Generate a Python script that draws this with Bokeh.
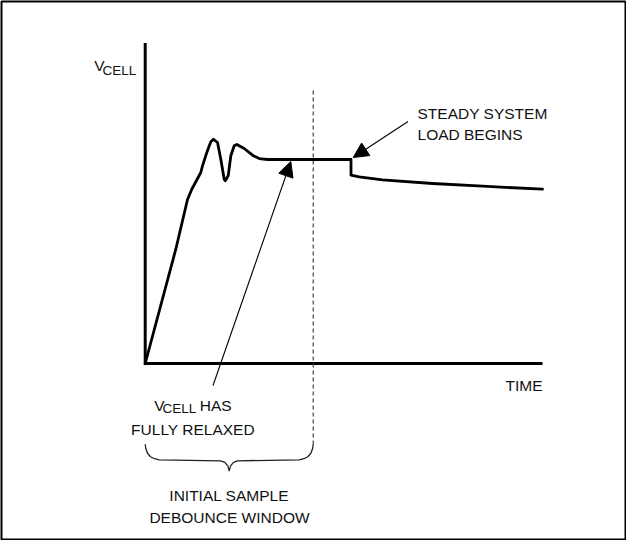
from bokeh.plotting import figure
from bokeh.models import Range1d, Arrow, NormalHead, ColumnDataSource
from bokeh.core.properties import value
from bokeh.embed import file_html
from bokeh.resources import INLINE

# ---- data (time units 0..100 along the time axis, V units 0..100 along V axis) ----
curve_t = [0, 7.70, 10.65, 11.73, 13.99, 14.42, 15.50, 16.51, 17.19, 18.20, 19.03,
           19.88, 20.14, 20.89, 21.55, 22.40, 23.06, 24.92, 27.01, 28.69, 30.78,
           42.07, 51.80, 51.80, 53.86, 59.73, 72.31, 84.90, 100.0]
curve_v = [0, 35.66, 51.17, 54.38, 59.59, 61.68, 65.83, 69.17, 69.98, 68.95, 63.74,
           57.50, 57.00, 58.56, 64.81, 67.93, 68.33, 67.08, 64.99, 63.96, 63.65,
           63.65, 63.65, 58.81, 58.25, 57.32, 56.16, 55.32, 54.38]

axis_t = [0, 0, 100]
axis_v = [100, 0, 0]

window_t = [42.29, 42.29]
window_v = [85.18, -25.27]

brace_t = [0, 0.13, 0.58, 1.33, 2.34, 3.52, 19.03, 20.04, 20.79, 21.14,
           21.49, 22.24, 23.23, 38.76, 39.94, 40.95, 41.70, 42.16, 42.29]
brace_v = [-25.18, -26.43, -27.99, -29.08, -29.71, -30.05, -30.36, -30.83, -31.92, -33.48,
           -31.92, -30.83, -30.36, -30.05, -29.71, -29.08, -27.99, -26.43, -25.18]

# annotation anchors
label_text = ["V", "CELL", "STEADY SYSTEM", "LOAD BEGINS", "TIME",
              "V", "CELL", "HAS", "FULLY RELAXED", "INITIAL SAMPLE", "DEBOUNCE WINDOW"]
label_t = [-12.84, -10.75, 68.54, 68.54, 100.0, 2.27, 4.35, 13.74, 12.03, 21.14, 21.22]
label_v = [92.89, 91.33, 78.10, 71.36, -6.77, -13.20, -14.04, -13.20, -20.50, -41.28, -48.05]
label_size = ["15.5px", "13.5px", "15.5px", "15.5px", "15.5px", "15.5px", "13.5px", "15.5px",
              "15.5px", "15.5px", "15.5px"]
label_align = ["left", "left", "left", "left", "right", "left", "left", "left", "center", "center", "center"]

arrow_t0 = [17.07, 66.15]
arrow_v0 = [-6.86, 75.51]
arrow_t1 = [36.65, 52.35]
arrow_v1 = [63.03, 64.27]

p = figure(width=626, height=540, output_backend="svg", toolbar_location=None,
           x_range=Range1d(-36.17, 120.89), y_range=Range1d(-54.91, 112.95),
           x_axis_location=None, y_axis_location=None,
           min_border=1, min_border_left=1, min_border_right=1,
           min_border_top=1, min_border_bottom=1)
p.grid.visible = False
p.outline_line_color = "black"
p.outline_line_width = 2
p.background_fill_color = "white"
p.border_fill_color = "white"

# axes
p.line(axis_t, axis_v, line_color="black", line_width=3, line_join="miter")
# dashed window boundary
p.line(window_t, window_v, line_color="#444444", line_width=1.2, line_dash="4 3")
# brace
p.line(brace_t, brace_v, line_color="#222222", line_width=1.3, line_join="round")
# V_CELL curve
p.line(curve_t, curve_v, line_color="black", line_width=2.8, line_join="round", line_cap="round")

# arrows
for a in range(len(arrow_t0)):
    p.add_layout(Arrow(end=NormalHead(size=15, fill_color="black", line_color="black", line_width=1),
                       x_start=arrow_t0[a], y_start=arrow_v0[a],
                       x_end=arrow_t1[a], y_end=arrow_v1[a],
                       line_color="black", line_width=1.1))

src = ColumnDataSource(dict(x=label_t, y=label_v, text=label_text, size=label_size, align=label_align))
p.text(x="x", y="y", text="text", source=src, text_font=value("Liberation Sans"),
       text_font_size="size", text_align="align", text_baseline="alphabetic",
       text_color="#111111")

open("out.html", "w").write(file_html(p, INLINE))
